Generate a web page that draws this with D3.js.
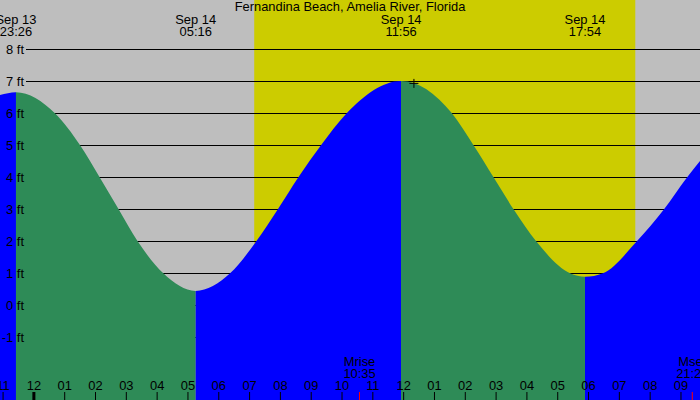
<!DOCTYPE html>
<html>
<head>
<meta charset="utf-8">
<script src="https://cdn.jsdelivr.net/npm/d3@7"></script>
<style>
  body { margin: 0; background: #fff; }
  svg text { font-family: "Liberation Sans", Arial, sans-serif; font-size: 12.9px; fill: #000; }
</style>
</head>
<body>
<div class="chart"></div>
<script>
const title = "Fernandina Beach, Amelia River, Florida";

// tide curve (time, height in ft)
const tideTimes = ["09/13 22:55", "09/13 23:26", "09/14 00:42", "09/14 01:31", "09/14 02:09",
  "09/14 02:46", "09/14 03:23", "09/14 04:13", "09/14 05:16", "09/14 06:23", "09/14 07:14",
  "09/14 07:56", "09/14 08:36", "09/14 09:20", "09/14 10:10", "09/14 11:56", "09/14 13:35",
  "09/14 14:17", "09/14 14:56", "09/14 15:35", "09/14 16:19", "09/14 17:25", "09/14 17:54",
  "09/14 18:29", "09/14 19:35", "09/14 20:28", "09/14 21:13", "09/14 21:38"];
const tideHeights = [6.57, 6.66, 6.0, 5.0, 4.0, 3.0, 2.0, 1.0, 0.45, 1.0, 2.0, 3.0, 4.0, 5.0, 6.0,
  7.01, 6.0, 5.0, 4.0, 3.0, 2.0, 1.0, 0.89, 1.0, 2.0, 3.0, 4.0, 4.51];

// high / low tides labelled at the top
const extremeDates = ["Sep 13", "Sep 14", "Sep 14", "Sep 14"];
const extremeTimes = ["09/13 23:26", "09/14 05:16", "09/14 11:56", "09/14 17:54"];
const extremeLabels = ["23:26", "05:16", "11:56", "17:54"];

// sunrise / sunset
const sunTimes = ["09/14 07:10", "09/14 19:32"];

// moon events
const moonNames = ["Mrise", "Mset"];
const moonTimes = ["09/14 10:35", "09/14 21:23"];
const moonLabels = ["10:35", "21:23"];

// current position marker
const nowTime = "09/14 12:20";
const nowHeight = 6.95;

const feetTicks = [8, 7, 6, 5, 4, 3, 2, 1, 0, -1];

var cfg = { width: 700, height: 400 };
var colors = { night: "#bebebe", day: "#cccc00", rising: "#0000ff", falling: "#2e8b57" };

const parse = d3.timeParse("%m/%d %H:%M");

var x = d3.scaleTime()
    .domain([parse("09/13 22:55"), parse("09/14 21:38")])
    .range([0, cfg.width]);

var y = d3.scaleLinear()
    .domain([0, 8])
    .range([305.3, 49.3]);

var svg = d3.select(".chart").append("svg")
    .attr("width", cfg.width)
    .attr("height", cfg.height);

// night / day background
var sunrise = parse(sunTimes[0]), sunset = parse(sunTimes[1]);
svg.append("rect")
    .attr("x", 0).attr("y", 0)
    .attr("width", cfg.width).attr("height", cfg.height)
    .attr("fill", colors.night);
svg.append("rect")
    .attr("x", x(sunrise)).attr("y", 0)
    .attr("width", x(sunset) - x(sunrise)).attr("height", cfg.height)
    .attr("fill", colors.day);

// grid lines
svg.append("g").selectAll("line")
    .data(feetTicks)
    .enter().append("line")
    .attr("x1", 26).attr("x2", cfg.width)
    .attr("y1", d => Math.round(y(d)) + 0.5)
    .attr("y2", d => Math.round(y(d)) + 0.5)
    .attr("stroke", "#000")
    .attr("stroke-width", 1);

// tide area, split rising / falling between extremes
var tide = tideTimes.map((t, i) => ({ t: parse(t), h: tideHeights[i] }));
var area = d3.area()
    .x(d => x(d.t))
    .y0(cfg.height)
    .y1(d => y(d.h))
    .curve(d3.curveMonotoneX);

var bounds = [x.domain()[0]].concat(extremeTimes.map(parse), [x.domain()[1]]);
var defs = svg.append("defs");
for (let i = 0; i < bounds.length - 1; i++) {
  defs.append("clipPath")
      .attr("id", "seg" + i)
    .append("rect")
      .attr("x", x(bounds[i]))
      .attr("y", 0)
      .attr("width", x(bounds[i + 1]) - x(bounds[i]))
      .attr("height", cfg.height);
  // first segment rises to the 23:26 high
  svg.append("path")
      .datum(tide)
      .attr("d", area)
      .attr("clip-path", `url(#seg${i})`)
      .attr("fill", i % 2 == 0 ? colors.rising : colors.falling);
}

// foot labels
svg.append("g").selectAll("text")
    .data(feetTicks)
    .enter().append("text")
    .attr("x", 24)
    .attr("y", d => y(d))
    .attr("dy", "0.35em")
    .attr("text-anchor", "end")
    .text(d => `${d} ft`);

// title
svg.append("text")
    .attr("x", cfg.width / 2)
    .attr("y", 11)
    .attr("text-anchor", "middle")
    .text(title);

// high / low labels
var extremeG = svg.append("g").selectAll("g")
    .data(extremeTimes)
    .enter().append("g")
    .attr("transform", d => `translate(${x(parse(d))},0)`);
extremeG.append("text")
    .attr("y", 24)
    .attr("text-anchor", "middle")
    .text((d, i) => extremeDates[i]);
extremeG.append("text")
    .attr("y", 36)
    .attr("text-anchor", "middle")
    .text((d, i) => extremeLabels[i]);

// current marker
svg.append("path")
    .attr("transform", `translate(${x(parse(nowTime))},${y(nowHeight)})`)
    .attr("d", "M-4,0.5H5M0.5,-4V5")
    .attr("stroke", "#000")
    .attr("stroke-width", 1);

// hour axis
var axis = svg.append("g")
    .attr("transform", `translate(0,${cfg.height})`)
    .call(d3.axisTop(x)
      .ticks(d3.timeHour.every(1))
      .tickSize(8)
      .tickPadding(2)
      .tickFormat(d3.timeFormat("%I")));
axis.select(".domain").remove();
axis.attr("font-size", null).attr("font-family", null);
axis.selectAll(".tick line")
    .attr("stroke", "#000")
    .attr("stroke-width", d => d.getHours() == 0 ? 3 : 1);

// moon rise / set
var moon = svg.append("g").selectAll("g")
    .data(moonTimes)
    .enter().append("g")
    .attr("transform", d => `translate(${x(parse(d))},0)`);
moon.append("line")
    .attr("y1", 392).attr("y2", cfg.height)
    .attr("stroke", "#ff0000");
moon.append("text")
    .attr("y", 366)
    .attr("text-anchor", "middle")
    .text((d, i) => moonNames[i]);
moon.append("text")
    .attr("y", 378)
    .attr("text-anchor", "middle")
    .text((d, i) => moonLabels[i]);
</script>
</body>
</html>
